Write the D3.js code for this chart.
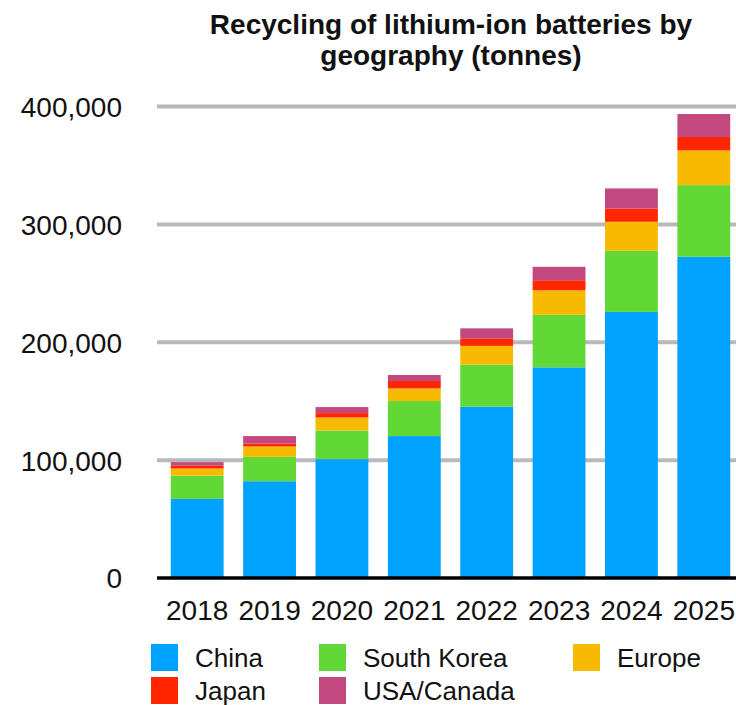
<!DOCTYPE html>
<html>
<head>
<meta charset="utf-8">
<script src="https://cdn.jsdelivr.net/npm/d3@7"></script>
<style>
  html, body { margin: 0; padding: 0; background: #fff; }
  svg { display: block; font-family: "Liberation Sans", Arial, Helvetica, sans-serif; }
</style>
</head>
<body>
<svg id="chart" width="736" height="705"></svg>
<script>
// Lithium-ion battery recycling by region, tonnes per year
const years = ["2018", "2019", "2020", "2021", "2022", "2023", "2024", "2025"];
const regions = ["China", "South Korea", "Europe", "Japan", "USA/Canada"];
const china      = [67100, 82100, 100800, 120400, 145300, 178700, 225700, 272500];
const southKorea = [19800, 20700, 24300, 29700, 35700, 44500, 51900, 60800];
const europe     = [6000, 8800, 11100, 10700, 15900, 20900, 24600, 29500];
const japan      = [2300, 2500, 3700, 6300, 6400, 8500, 11300, 11300];
const usaCanada  = [3100, 6300, 5100, 5100, 8500, 11400, 17000, 19500];
const yTicks = [0, 100000, 200000, 300000, 400000];
const colors = ["#00a2ff", "#61d836", "#f8ba00", "#ff2600", "#c2487f"];
const titleLines = ["Recycling of lithium-ion batteries by", "geography (tonnes)"];

const seriesValues = [china, southKorea, europe, japan, usaCanada];
const rows = years.map((yr, i) => {
  const r = { year: yr };
  regions.forEach((reg, k) => { r[reg] = seriesValues[k][i]; });
  return r;
});

const svg = d3.select("#chart");

const x = d3.scaleBand().domain(years).range([161, 740]).paddingInner(0.27).paddingOuter(0.135);
const y = d3.scaleLinear().domain([0, 400000]).range([578, 106.5]);
const color = d3.scaleOrdinal().domain(regions).range(colors);

// Title
svg.append("g").selectAll("text").data(titleLines).join("text")
  .attr("x", 451)
  .attr("y", (d, i) => 34 + i * 31)
  .attr("text-anchor", "middle")
  .attr("font-size", 28)
  .attr("font-weight", "bold")
  .attr("fill", "#111")
  .text(d => d);

// Horizontal gridlines
svg.append("g").selectAll("line").data(yTicks.filter(d => d > 0)).join("line")
  .attr("x1", 157).attr("x2", 736)
  .attr("y1", d => y(d)).attr("y2", d => y(d))
  .attr("stroke", "#b9b9b9")
  .attr("stroke-width", 4);

// Y axis labels
const yAxis = svg.append("g")
  .attr("transform", "translate(122,1)")
  .call(d3.axisLeft(y).tickValues(yTicks).tickFormat(d3.format(",")).tickSize(0).tickPadding(0));
yAxis.select(".domain").remove();
yAxis.selectAll("text")
  .attr("font-size", 28)
  .attr("font-family", "Liberation Sans, Arial, sans-serif")
  .attr("fill", "#111");

// Stacked bars
const stacked = d3.stack().keys(regions)(rows);
svg.append("g").selectAll("g").data(stacked).join("g")
  .attr("fill", d => color(d.key))
  .selectAll("rect").data(d => d).join("rect")
  .attr("x", d => x(d.data.year))
  .attr("width", x.bandwidth())
  .attr("y", d => y(d[1]))
  .attr("height", d => y(d[0]) - y(d[1]));

// Zero baseline
svg.append("line")
  .attr("x1", 157).attr("x2", 736)
  .attr("y1", y(0)).attr("y2", y(0))
  .attr("stroke", "#000")
  .attr("stroke-width", 3.5);

// X axis labels
const xAxis = svg.append("g")
  .attr("transform", `translate(0,${y(0)})`)
  .call(d3.axisBottom(x).tickSize(0).tickPadding(22));
xAxis.select(".domain").remove();
xAxis.selectAll("text")
  .attr("font-size", 28)
  .attr("font-family", "Liberation Sans, Arial, sans-serif")
  .attr("fill", "#111");

// Legend
const legendPos = [
  { x: 151, y: 644 }, { x: 319, y: 644 }, { x: 573, y: 644 },
  { x: 151, y: 677 }, { x: 319, y: 677 }
];
const legend = svg.append("g").selectAll("g").data(regions).join("g")
  .attr("transform", (d, i) => `translate(${legendPos[i].x},${legendPos[i].y})`);
legend.append("rect")
  .attr("width", 27).attr("height", 27)
  .attr("fill", d => color(d));
legend.append("text")
  .attr("x", 44).attr("y", 22.5)
  .attr("font-size", 26)
  .attr("fill", "#111")
  .text(d => d);
</script>
</body>
</html>
